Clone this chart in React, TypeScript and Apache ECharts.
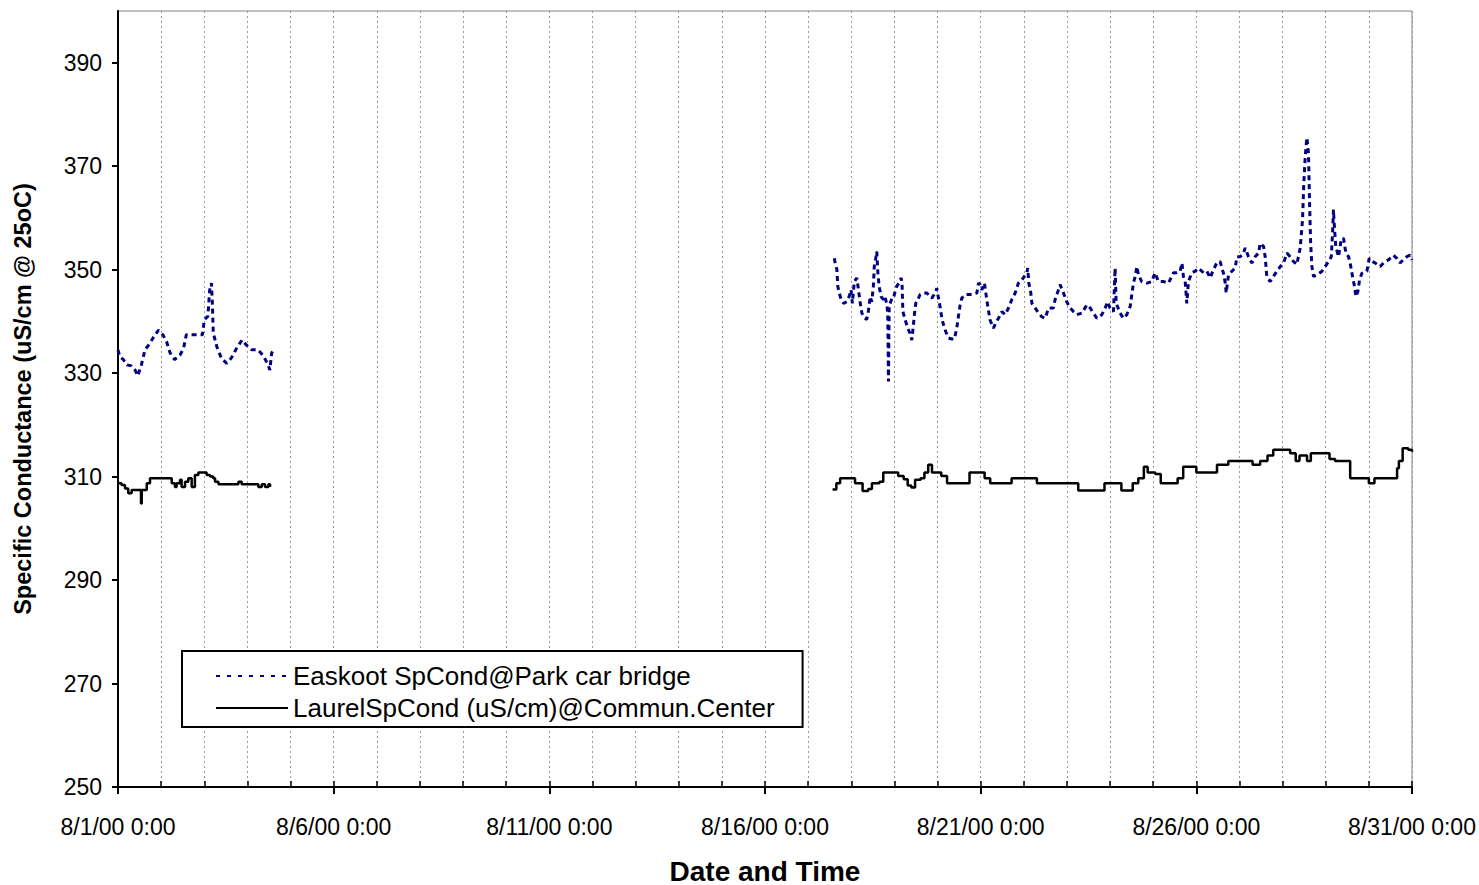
import React, { useEffect, useRef } from 'react';
import * as echarts from 'echarts';

// Hours since 8/1/00 0:00, and specific conductance values (uS/cm @ 25oC)
const easkootHours1 = [0,1,3,5,7.5,9.5,11,13,15,17,19.5,22.5,25,27,29,31.5,34.5,36.5,38,43,47,48,50,51,52,52.5,53,55,57.5,60.5,63,66,69,71.5,74.5,78,81,83.5,84.5,85.5,86.5];
const easkootValues1 = [334.5,333.2,332.6,331.6,331.4,330.6,329.5,331.6,334.5,335.4,336.8,338.3,337.4,336.1,333.9,332.6,333.5,334.8,337.4,337.4,337.4,340.3,341,346,347.4,343.6,337.8,335.1,332.9,331.9,332.9,334.8,336.4,335.4,334.5,334.5,333.3,331.6,330.6,333.9,334.5];

const easkootHours2 = [398.6,399,400,400.5,401.3,402.4,403.7,405.5,406.8,407.9,408.6,409.7,411.1,412,412.9,413.9,415.4,416.6,417.5,418.5,419.4,420.3,420.8,421.6,422.2,422.8,423.5,424.6,425.9,426.8,427.8,428.3,428.7,429.1,430.6,431.5,432.4,433.3,434.6,435.8,436.3,436.7,438,439.4,440.7,441.7,442.6,443.2,443.9,445,446.3,448.1,450,452.8,454.7,455.6,456.5,457.4,458.4,459.3,460.6,462.1,463.9,465.4,466.7,467.6,468.6,469.5,471.4,475.1,477.9,478.8,479.7,480.6,482.1,483.4,484.3,485.2,487.1,488.4,489.9,491.8,493.6,495.5,497.3,499.2,501,502.9,505.7,506.2,506.8,507.9,508.5,510.3,512.2,514,515.9,517.8,520.5,521.4,523.3,524.2,526.1,527.9,529.8,531.6,533.5,536.3,539.1,540.9,542.8,544.6,547.4,549.3,550.6,552,553.9,554.8,555.4,557.6,559.5,561.3,563.2,564.1,565,566,566.9,567.8,569.6,572.5,575.2,577,578.9,581.8,584.5,587.3,589.2,591,592,592.8,593.8,594.7,595.6,597.5,599.3,601.2,604,605.9,607.7,609.5,611.4,613.2,615.1,616.1,616.6,617.9,619.8,621.6,622.6,624.4,626.2,627.2,629,630.9,632.7,634.6,635.5,637.4,638.3,639.2,641.1,642.9,644.8,646.7,648.5,650.4,652.2,654,655.9,657.8,659.1,659.8,660.6,661.5,662.4,663,663.6,664.3,665.2,667.1,669.9,671.7,673.6,675.1,675.8,676.3,676.8,677.6,679.1,680.6,681.9,683.2,684.7,685.6,686.9,688,688.8,689.9,690.8,692.1,694.9,696.2,697.7,699.5,702.3,704.1,706.9,709.7,711.6,713.4,715.2,717.1,719,720];
const easkootValues2 = [352.2,351.3,350,346.8,345.5,344.2,343.5,343.8,344.8,346.1,343.5,347.7,348.4,346.1,343.8,341.6,340.6,340.4,341.9,344.8,343.8,346.8,350.6,352.2,353.5,349.4,346.8,344.8,344.2,344.8,343.2,341.6,328.4,342.9,344.5,344.5,345.8,346.8,347.4,348.4,346.8,341.9,340.3,338.7,337.7,336.4,339.4,341.6,343.5,344.2,345.2,345.5,345.5,344.5,345.5,346.4,344.5,342.9,340.6,339.4,338,336.8,336.6,336.6,338.7,340.9,343.2,344.5,345.2,345.2,345.5,347.4,347.1,346.1,347.4,344.2,342.2,340.3,338.7,339.7,340.6,341.9,341.3,342.6,344.2,345.5,347.4,348,349.4,350.3,347.4,345.5,343.5,342.6,341.6,340.9,340.6,342.6,342.6,344.2,346.1,347.1,345.5,343.8,342.6,341.9,341.3,341.6,343.2,342.6,341.6,340.6,341.3,342.6,343.8,342.6,341.9,350.3,343.5,341.6,340.6,341.3,342.9,345.2,347.4,348.7,350.6,349,347.7,347.4,347.7,349.4,347.7,347.7,347.4,349.4,349.4,349.7,351.3,348.7,347.7,343.5,347.7,349.4,349.7,350.3,349.4,349.7,348.4,350,351.3,351.6,349.3,347.4,345.5,349,349.7,350.3,352.5,352.5,353.2,354.2,352.5,351.3,352.5,353.2,355.1,354.5,352.5,348.7,347.7,348.7,349.7,350.6,351.3,353.2,352.5,351.6,351,354.2,359.7,366.7,371.9,375.5,372.5,362.9,355.1,350.6,348.7,349,349.7,350.6,351.6,352.5,357.1,361.6,358.4,354.5,352.5,355.8,356.1,353.2,352.5,351.3,348.7,346.8,344.8,345.8,348,349.3,349.7,352.2,351.6,351.3,350.6,351.3,351.9,352.8,352.2,351.3,351.9,352.5,352.8,351.9];

const laurelHours1 = [0,2,3.9,5.7,7.6,12.2,12.8,13.2,16,17.8,28.9,29.9,31.7,32.6,34.5,35.4,37.3,39.1,41,42.8,44.7,47.5,49.3,51.2,53,54,55.9,65.2,67,68.8,76.3,78.1,80,81.8,83.7,84.6];
const laurelValues1 = [308.7,308.4,307.7,306.8,307.4,307.4,304.8,307.4,308.7,309.7,309.7,308.7,308,308.7,309.4,308,309,309.7,308,310.3,310.8,310.8,310.3,310,309.7,309,308.5,308.5,309,308.5,308.5,308,308.5,308,308.5,308];

const laurelHours2 = [397.6,399.7,401.8,408,410.1,413.3,414.3,417.4,419.5,423.7,425.8,432.1,434.1,437.2,439.4,441.4,443.5,446.6,448.7,450.8,452.9,456,458.1,461.3,472.7,473.8,481.1,482.2,485.3,496.7,497.2,510.3,511.3,533.2,534.3,547.9,548.9,557.2,558.3,563.5,564.6,567.7,570.8,572.9,577.1,580.2,588.5,589.6,592.7,600,610.5,611.5,617.8,629.2,631.3,635.5,639.6,642.8,647,652.2,655.3,657.4,661.6,663.7,672,674.1,677.2,683.5,685.6,693.9,696,699.1,710.6,711.7,712.7,714.8,717.9,720];
const laurelValues2 = [307.5,308.7,309.7,309.7,308.7,308.7,307.2,307.6,308.7,309,310.8,310.8,310.1,309.5,308.3,307.9,309.4,309.7,310.8,312.3,310.8,310.8,310.1,308.7,308.7,310.8,310.8,309.7,308.7,308.7,309.7,309.7,308.7,308.7,307.3,307.3,308.7,308.7,307.3,307.3,308.7,309.7,311.9,310.8,310.5,308.7,308.7,309.7,311.9,310.8,310.8,312.3,313,313,312.3,313,314.1,315.2,315.2,314.5,313,314.1,313,314.5,314.5,313.4,313,313,309.7,309.7,308.7,309.7,309.7,311.6,313,315.5,315.2,314.8];

const yTickValues = [250, 270, 290, 310, 330, 350, 370, 390];
const xLabelHours = [0, 120, 240, 360, 480, 600, 720];

const easkootName = 'Easkoot SpCond@Park car bridge';
const laurelName = 'LaurelSpCond (uS/cm)@Commun.Center';

const zip = (h: number[], v: number[]) => h.map((x, i) => [x, v[i]]);

export default function App() {
  const ref = useRef<HTMLDivElement>(null);
  useEffect(() => {
    if (!ref.current) return;
    const chart = echarts.init(ref.current, null, { renderer: 'svg' });
    const font = "'Liberation Sans', Arial, sans-serif";
    const easkootStyle = { color: '#000080', width: 3, type: [5, 4] as any };
    const laurelStyle = { color: '#000000', width: 2.5 };
    chart.setOption({
      animation: false,
      backgroundColor: '#ffffff',
      textStyle: { fontFamily: font, color: '#000' },
      grid: {
        left: 118, right: 67, top: 11, bottom: 98,
        outerBoundsMode: 'none',
        containLabel: false,
        show: true, borderColor: '#808080', borderWidth: 1, backgroundColor: 'transparent',
      },
      legend: {
        orient: 'vertical',
        left: 182,
        top: 651,
        selectedMode: false,
        data: [
          { name: easkootName, lineStyle: { type: [4, 7], width: 2, color: '#000080' } },
          { name: laurelName, lineStyle: { width: 2, color: '#000' } },
        ],
        itemWidth: 72,
        itemHeight: 14,
        itemGap: 6,
        padding: [12, 28, 6, 33],
        borderColor: '#000',
        borderWidth: 2,
        backgroundColor: '#fff',
        itemStyle: { opacity: 0 },
        textStyle: { fontSize: 26, color: '#000', fontFamily: font },
      },
      xAxis: [
        {
          type: 'value', min: 0, max: 720, interval: 24, position: 'bottom',
          axisLine: { show: true, lineStyle: { color: '#000', width: 2 } },
          axisTick: { show: true, inside: true, length: 6, lineStyle: { color: '#000', width: 1.5 } },
          axisLabel: { show: false },
          splitLine: { show: true, lineStyle: { color: '#9a9a9a', width: 1, type: [2, 3] } },
        },
        {
          type: 'value', min: 0, max: 720, interval: 120, position: 'bottom',
          axisLine: { show: false },
          axisTick: { show: true, length: 7, lineStyle: { color: '#000', width: 2 } },
          axisLabel: {
            fontSize: 23, color: '#000', margin: 28, fontFamily: font,
            customValues: xLabelHours,
            formatter: (v: number) => `8/${v / 24 + 1}/00 0:00`,
          },
          splitLine: { show: false },
          name: 'Date and Time',
          nameLocation: 'middle',
          nameGap: 70,
          nameTextStyle: { fontSize: 28, fontWeight: 'bold', color: '#000', fontFamily: font },
        },
      ],
      yAxis: {
        type: 'value', min: 250, max: 400, interval: 10,
        axisLine: { show: true, lineStyle: { color: '#000', width: 2 } },
        axisTick: { show: true, length: 6, customValues: yTickValues, lineStyle: { color: '#000', width: 2 } },
        axisLabel: { fontSize: 23, color: '#000', margin: 16, customValues: yTickValues, fontFamily: font },
        splitLine: { show: false },
        name: 'Specific Conductance (uS/cm @ 25oC)',
        nameLocation: 'middle',
        nameGap: 83,
        nameTextStyle: { fontSize: 23.5, fontWeight: 'bold', color: '#000', fontFamily: font },
      },
      series: [
        { name: easkootName, type: 'line', xAxisIndex: 0, data: zip(easkootHours1, easkootValues1), showSymbol: false, symbol: 'none', lineStyle: easkootStyle, itemStyle: { color: '#000080' } },
        { name: easkootName, type: 'line', xAxisIndex: 0, data: zip(easkootHours2, easkootValues2), showSymbol: false, symbol: 'none', lineStyle: easkootStyle, itemStyle: { color: '#000080' } },
        { name: laurelName, type: 'line', xAxisIndex: 0, step: 'end', data: zip(laurelHours1, laurelValues1), showSymbol: false, symbol: 'none', lineStyle: laurelStyle, itemStyle: { color: '#000' } },
        { name: laurelName, type: 'line', xAxisIndex: 0, step: 'end', data: zip(laurelHours2, laurelValues2), showSymbol: false, symbol: 'none', lineStyle: laurelStyle, itemStyle: { color: '#000' } },
      ],
    });
    return () => chart.dispose();
  }, []);
  return <div ref={ref} style={{ position: 'fixed', left: 0, top: 0, width: 1479, height: 885, background: '#fff' }} />;
}
